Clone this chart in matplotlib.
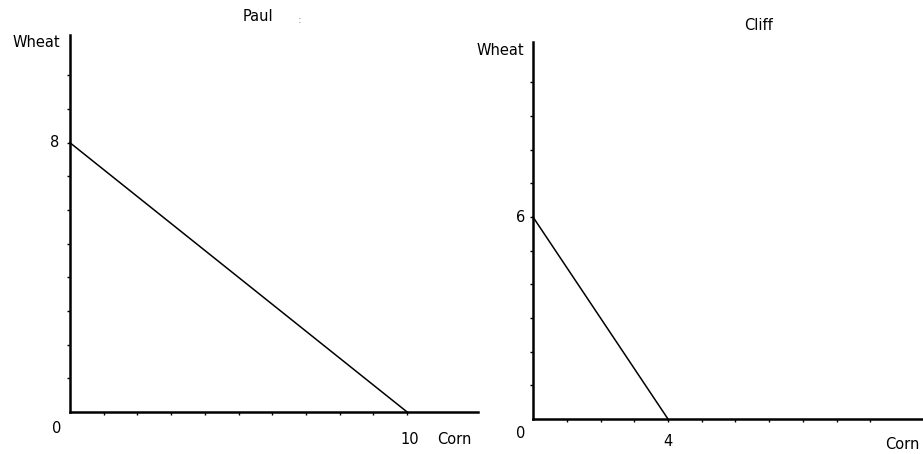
import matplotlib
matplotlib.use("Agg")
import matplotlib.pyplot as plt

# production possibilities (corn, wheat)
paul_corn = [0, 10]
paul_wheat = [8, 0]
cliff_corn = [0, 4]
cliff_wheat = [6, 0]
unit_ticks = list(range(1, 11))

plt.rcParams['font.family'] = ['DejaVu Sans']
plt.rcParams['font.size'] = 10.5

fig = plt.figure(figsize=(9.23, 4.54), dpi=100)
ax1 = fig.add_axes([0.0758, 0.0925, 0.442, 0.8304])
ax2 = fig.add_axes([0.5775, 0.0771, 0.4225, 0.8304])


def style(ax, xmax):
    ax.set_xlim(0, xmax)
    ax.set_ylim(0, 11.2)
    for s in ['top', 'right']:
        ax.spines[s].set_visible(False)
    for s in ['left', 'bottom']:
        ax.spines[s].set_linewidth(1.8)
    ax.set_xticks(unit_ticks)
    ax.set_yticks(unit_ticks)
    ax.set_xticklabels([])
    ax.set_yticklabels([])
    ax.tick_params(direction='out', length=2.5, width=1)


# Paul
style(ax1, 12.1)
ax1.plot(paul_corn, paul_wheat, color='black', lw=1.1, clip_on=False)
ax1.text(5.58, 11.76, 'Paul', ha='center', va='center')
ax1.text(6.82, 11.65, ':', ha='center', va='center', color='#888888', fontsize=8)
ax1.text(-1.01, 10.98, 'Wheat', ha='center', va='center')
ax1.text(-0.45, 8, '8', ha='center', va='center')
ax1.text(-0.39, -0.48, '0', ha='center', va='center')
ax1.text(10.09, -0.83, '10', ha='center', va='center')
ax1.text(10.89, -0.83, 'Corn', ha='left', va='center')

# Cliff
style(ax2, 11.56)
ax2.plot(cliff_corn, cliff_wheat, color='black', lw=1.1, clip_on=False)
ax2.text(6.67, 11.69, 'Cliff', ha='center', va='center')
ax2.text(-0.98, 10.95, 'Wheat', ha='center', va='center')
ax2.text(-0.36, 6, '6', ha='center', va='center')
ax2.text(-0.36, -0.42, '0', ha='center', va='center')
ax2.text(4.0, -0.68, '4', ha='center', va='center')
ax2.text(10.43, -0.77, 'Corn', ha='left', va='center')

fig.savefig('out.png', dpi=100)
